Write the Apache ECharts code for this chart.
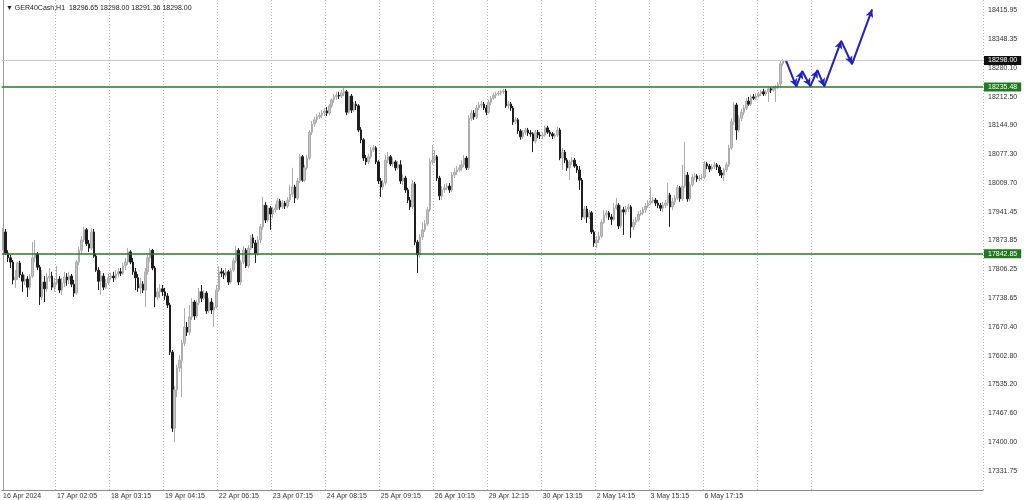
<!DOCTYPE html>
<html><head><meta charset="utf-8">
<script src="https://cdn.jsdelivr.net/npm/echarts@6/dist/echarts.min.js"></script>
<style>html,body{margin:0;padding:0;background:#fff}#c{width:1024px;height:500px}</style>
</head><body><div id="c"></div><script>
const symbolName = 'GER40Cash,H1';
// H1 candles: [open, close, low, high]
const candles = [
[17856,17894,17851,17903],[17894,17844,17840,17901],[17844,17833,17823,17851],[17833,17823,17809,17840],[17823,17781,17771,17828],
[17781,17788,17762,17804],[17788,17821,17781,17823],[17821,17793,17786,17826],[17793,17778,17753,17800],[17778,17783,17769,17793],
[17783,17764,17741,17790],[17764,17790,17757,17795],[17790,17833,17786,17870],[17833,17842,17823,17875],[17842,17811,17804,17847],
[17811,17741,17722,17816],[17741,17776,17734,17804],[17776,17760,17729,17790],[17760,17786,17753,17797],[17786,17790,17776,17809],
[17790,17764,17757,17800],[17764,17774,17753,17786],
[17774,17783,17769,17814],[17783,17757,17750,17790],[17757,17774,17746,17786],[17774,17788,17764,17800],[17788,17781,17767,17797],
[17781,17790,17771,17800],[17790,17771,17764,17795],[17771,17750,17741,17781],[17750,17823,17746,17828],[17823,17851,17816,17859],
[17851,17875,17844,17884],[17875,17899,17870,17906],[17899,17866,17861,17903],[17866,17856,17847,17875],[17856,17894,17851,17903],
[17894,17837,17833,17901],[17837,17804,17800,17844],[17804,17778,17757,17811],[17778,17790,17746,17802],[17790,17764,17757,17797],
[17764,17774,17760,17783],[17774,17786,17769,17795],
[17786,17790,17781,17797],[17790,17786,17776,17800],[17786,17795,17781,17804],[17795,17800,17788,17809],[17800,17797,17790,17809],
[17797,17814,17793,17821],[17814,17823,17804,17833],[17823,17847,17816,17856],[17847,17823,17818,17851],[17823,17800,17793,17833],
[17800,17786,17757,17809],[17786,17762,17753,17795],[17762,17771,17748,17786],[17771,17757,17750,17778],[17757,17800,17717,17809],
[17800,17833,17793,17840],[17833,17851,17823,17856],[17851,17809,17804,17854],[17809,17741,17717,17814],[17741,17753,17734,17762],
[17753,17760,17738,17771],[17760,17753,17743,17769],
[17753,17743,17734,17762],[17743,17722,17715,17750],[17722,17611,17604,17727],[17611,17432,17423,17616],[17432,17522,17399,17531],
[17522,17574,17505,17581],[17574,17592,17564,17604],[17592,17632,17505,17640],[17632,17670,17625,17715],[17670,17658,17649,17682],
[17658,17694,17651,17722],[17694,17729,17687,17738],[17729,17696,17687,17734],[17696,17727,17691,17734],[17727,17753,17722,17762],
[17753,17738,17729,17769],[17738,17750,17734,17757],[17750,17708,17701,17755],[17708,17729,17703,17738],[17729,17710,17701,17738],
[17710,17717,17670,17727],[17717,17757,17713,17769],
[17757,17800,17753,17814],[17800,17797,17788,17809],[17797,17793,17783,17804],[17793,17800,17788,17809],[17800,17776,17769,17804],
[17776,17804,17771,17809],[17804,17826,17800,17833],[17826,17851,17821,17861],[17851,17776,17769,17856],[17776,17823,17769,17828],
[17823,17851,17818,17861],[17851,17814,17809,17856],[17814,17856,17809,17863],[17856,17880,17851,17887],[17880,17868,17856,17889],
[17868,17844,17821,17875],[17844,17875,17837,17884],[17875,17906,17868,17913],[17906,17957,17899,17976],[17957,17922,17915,17964],
[17922,17950,17917,17957],[17950,17936,17899,17955],
[17936,17946,17927,17953],[17946,17950,17939,17960],[17950,17967,17946,17974],[17967,17953,17946,17972],[17953,17962,17948,17969],
[17962,17955,17948,17967],[17955,17969,17950,17976],[17969,17983,17965,18005],[17983,18000,17976,18045],[18000,17974,17962,18005],
[17974,18014,17969,18021],[18014,18071,18009,18078],[18071,18016,18012,18075],[18016,18045,18012,18052],[18045,18068,18040,18075],
[18068,18129,18063,18134],[18129,18148,18122,18155],[18148,18158,18141,18165],[18158,18165,18151,18172],[18165,18169,18160,18176],
[18169,18174,18162,18181],[18174,18179,18167,18186],
[18179,18174,18167,18188],[18174,18191,18169,18195],[18191,18205,18186,18209],[18205,18212,18198,18219],[18212,18216,18205,18224],
[18216,18214,18207,18224],[18214,18221,18209,18228],[18221,18224,18214,18233],[18224,18176,18169,18228],[18176,18214,18172,18224],
[18214,18181,18174,18219],[18181,18195,18176,18200],[18195,18191,18181,18202],[18191,18134,18129,18195],[18134,18111,18103,18141],
[18111,18068,18061,18115],[18068,18059,18052,18075],[18059,18071,18054,18078],[18071,18087,18066,18094],[18087,18092,18082,18099],
[18092,18059,18054,18096],[18059,18014,18007,18063],
[18014,18000,17976,18021],[18000,18009,17993,18016],[18009,18063,18005,18075],[18063,18071,18056,18082],[18071,18054,18049,18075],
[18054,18059,18047,18068],[18059,18045,18038,18063],[18045,18052,18040,18061],[18052,18014,18007,18063],[18014,18021,18005,18030],
[18021,17993,17986,18026],[17993,17969,17962,17998],[17969,17953,17946,17976],[17953,18007,17948,18016],[18007,17870,17863,18012],
[17870,17840,17797,17875],[17840,17882,17833,17889],[17882,17899,17875,17917],[17899,17913,17894,17922],[17913,17946,17908,17953],
[17946,18059,17941,18068],[18059,18063,18052,18099],
[18063,18071,18056,18087],[18071,18021,18014,18075],[18021,17979,17969,18026],[17979,17993,17969,18002],[17993,17998,17986,18007],
[17998,18002,17993,18009],[18002,17993,17986,18009],[17993,18028,17988,18035],[18028,18035,18021,18045],[18035,18040,18028,18049],
[18040,18045,18035,18052],[18045,18052,18038,18063],[18052,18068,18047,18075],[18068,18045,18040,18073],[18045,18162,18040,18169],
[18162,18174,18155,18181],[18174,18165,18158,18181],[18165,18186,18160,18193],[18186,18193,18181,18200],[18193,18195,18186,18202],
[18195,18186,18181,18200],[18186,18176,18169,18193],
[18176,18200,18172,18205],[18200,18209,18193,18214],[18209,18216,18205,18221],[18216,18219,18209,18224],[18219,18221,18214,18226],
[18221,18224,18216,18228],[18224,18226,18219,18231],[18226,18191,18186,18231],[18191,18195,18184,18202],[18195,18186,18179,18200],
[18186,18153,18146,18191],[18153,18158,18148,18165],[18158,18132,18125,18162],[18132,18118,18111,18136],[18118,18129,18113,18134],
[18129,18134,18122,18139],[18134,18127,18120,18139],[18127,18125,18118,18134],[18125,18108,18082,18129],[18108,18129,18103,18134],
[18129,18122,18115,18134],[18122,18120,18113,18129],
[18120,18122,18113,18129],[18122,18139,18118,18144],[18139,18129,18125,18144],[18129,18125,18118,18134],[18125,18120,18113,18129],
[18120,18122,18115,18127],[18122,18134,18118,18141],[18134,18068,18063,18139],[18068,18082,18040,18092],[18082,18063,18056,18087],
[18063,18045,18038,18068],[18045,18059,18016,18063],[18059,18063,18052,18071],[18063,18049,18045,18068],[18049,18040,18033,18054],
[18040,18016,17993,18049],[18016,17929,17922,18021],[17929,17948,17924,17955],[17948,17929,17915,17955],[17929,17939,17924,17946],
[17939,17894,17889,17943],[17894,17868,17859,17899],
[17868,17875,17856,17884],[17875,17884,17868,17894],[17884,17917,17880,17924],[17917,17934,17913,17946],[17934,17939,17927,17946],
[17939,17929,17922,17943],[17929,17924,17910,17936],[17924,17950,17920,17962],[17950,17957,17946,17974],[17957,17908,17901,17962],
[17908,17946,17903,17957],[17946,17941,17887,17953],[17941,17948,17934,17955],[17948,17953,17941,17960],[17953,17906,17880,17957],
[17906,17917,17899,17924],[17917,17922,17910,17929],[17922,17936,17917,17943],[17936,17939,17932,17946],[17939,17946,17934,17953],
[17946,17955,17939,17962],[17955,17962,17950,17969],
[17962,17967,17957,18000],[17967,17969,17962,17976],[17969,17962,17955,17974],[17962,17957,17950,17969],[17957,17950,17943,17962],
[17950,17957,17941,17965],[17957,17962,17950,17969],[17962,17981,17955,18009],[17981,17953,17906,17986],[17953,17965,17946,17974],
[17965,17974,17957,17981],[17974,17998,17969,18005],[17998,17972,17965,18002],[17972,18002,17967,18052],[18002,18028,17998,18106],
[18028,17972,17965,18035],[17972,18005,17967,18012],[18005,18023,18000,18030],[18023,18026,18016,18033],[18026,18019,18012,18030],
[18019,18021,18014,18028],[18021,18023,18016,18030],
[18023,18054,18019,18061],[18054,18049,18042,18059],[18049,18042,18035,18054],[18042,18047,18038,18054],[18047,18052,18042,18059],
[18052,18047,18040,18056],[18047,18033,18026,18052],[18033,18028,18021,18040],[18028,18040,18014,18045],[18040,18052,18035,18059],
[18052,18092,18047,18099],[18092,18153,18087,18162],[18153,18193,18146,18200],[18193,18134,18111,18198],[18134,18162,18129,18169],
[18162,18176,18155,18184],[18176,18186,18169,18193],[18186,18202,18181,18209],[18202,18195,18191,18212],[18195,18212,18191,18216],
[18212,18209,18205,18219],[18209,18214,18205,18221],
[18214,18219,18209,18224],[18219,18224,18214,18228],[18224,18219,18214,18231],[18219,18224,18214,18228],[18224,18231,18200,18235],
[18231,18228,18221,18235],[18228,18233,18224,18238],[18233,18235,18200,18240],[18235,18242,18231,18247],[18242,18290,18235,18299],
[18290,18297,18285,18301],[18296.65,18298.00,18291.36,18298.00]
];
const futureSlots = 80;
const labelIndex = [0,22,44,66,88,110,132,154,176,198,220,242,264,286,308];
const labelText = ['16 Apr 2024','17 Apr 02:05','18 Apr 03:15','19 Apr 04:15','22 Apr 06:15','23 Apr 07:15','24 Apr 08:15','25 Apr 09:15','26 Apr 10:15','29 Apr 12:15','30 Apr 13:15','2 May 14:15','3 May 15:15','6 May 17:15'];
const gridIndex = [22,44,66,88,110,132,154,176,198,220,242,264,286,308,330];
const yTicks = [18415.95,18348.35,18280.10,18212.50,18144.90,18077.30,18009.70,17941.45,17873.85,17806.25,17738.65,17670.40,17602.80,17535.20,17467.60,17400.00,17331.75];
const yMin = 17286.3, yMax = 18440.2;
const levelHigh = 18235.48, levelLow = 17842.85, bidPrice = 18298.00;
// hand-drawn forecast path (bar position, price)
const forecastX = [319.3, 323.4, 325.8, 329.1, 332.0, 334.8, 341.7, 346.1, 354.3];
const forecastY = [18296, 18236, 18273, 18237, 18275, 18237, 18344, 18289, 18418];

const labelAt = {};
labelAt[labelIndex[0]] = labelText[0];
for (let k = 1; k < labelText.length; k++) labelAt[labelIndex[k]] = labelText[k];

const N = candles.length + futureSlots;
const cats = [];
for (let i = 0; i < N; i++) cats.push(String(i));
const last = candles[candles.length - 1];
const titleText = '\u25BC ' + symbolName + '  ' + [last[0], last[3], last[2], last[1]].map(v => v.toFixed(2)).join(' ');
const FONT = 'Liberation Sans';

const chart = echarts.init(document.getElementById('c'), null, {renderer: 'canvas'});
function lvl(v, bg, lineColor, w) {
  return {yAxis: v, lineStyle: {color: lineColor, width: w, type: 'solid'},
    label: {show: true, position: 'end', distance: 1, formatter: v.toFixed(2), backgroundColor: bg, color: '#fff',
      padding: [1, 4, 0, 4], lineHeight: 8, fontSize: 7, fontFamily: FONT}};
}
const fdata = forecastX.map((x, i) => ({value: [x, forecastY[i]], symbol: i === 0 ? 'none' : 'arrow', symbolSize: [6, 8]}));
const option = {
  animation: false,
  backgroundColor: '#fff',
  title: {text: titleText, left: 1, top: 0, textStyle: {fontSize: 7, fontWeight: 'normal', color: '#222', fontFamily: FONT}},
  grid: {left: 0, right: 41, top: 0, bottom: 10, containLabel: false},
  xAxis: [{
    type: 'category', data: cats, boundaryGap: true,
    axisLine: {show: true, lineStyle: {color: '#8c8c8c'}},
    axisTick: {show: false},
    axisLabel: {interval: (i) => labelAt[i] !== undefined, formatter: (v, i) => labelAt[i] || '', align: 'left', margin: 3, fontSize: 7, color: '#333', fontFamily: FONT},
    splitLine: {show: true, interval: (i) => gridIndex.indexOf(i) >= 0, lineStyle: {color: '#b4b4b4', type: [1, 2], width: 1}}
  }, {type: 'value', min: -0.5, max: N - 0.5, show: false}],
  yAxis: [{
    type: 'value', position: 'right', min: yMin, max: yMax,
    axisLine: {show: true, lineStyle: {color: '#8c8c8c'}},
    axisTick: {show: false},
    axisLabel: {customValues: yTicks, formatter: v => v.toFixed(2), fontSize: 7, color: '#333', margin: 5, fontFamily: FONT},
    splitLine: {show: false}
  }],
  series: [{
    type: 'candlestick', data: candles, barWidth: 2,
    itemStyle: {color: '#c4c4c4', color0: '#1e1e1e', borderColor: '#acacac', borderColor0: '#1e1e1e', borderWidth: 1},
    markLine: {silent: true, symbol: ['none', 'none'], animation: false,
      data: [
        {xAxis: 0, lineStyle: {color: '#9a9a9a', width: 1, type: 'solid'}, label: {show: false}},
        lvl(bidPrice, '#111', '#c8c8c8', 1), lvl(levelHigh, '#1f7a1f', '#2a7a2a', 1.5), lvl(levelLow, '#1f7a1f', '#2a7a2a', 1.5)]}
  }, {
    type: 'line', xAxisIndex: 1, yAxisIndex: 0, data: fdata, showSymbol: true,
    lineStyle: {color: '#1e1ed2', width: 2}, itemStyle: {color: '#1e1ed2'}, z: 5
  }]
};
chart.setOption(option);
// orient arrowheads along each segment using the chart's own scales
const px = forecastX.map((x, i) => chart.convertToPixel({seriesIndex: 1}, [x, forecastY[i]]));
const fdata2 = fdata.map((d, i) => {
  if (i === 0) return d;
  const dx = px[i][0] - px[i - 1][0], dy = px[i][1] - px[i - 1][1];
  const ang = Math.atan2(-dx, -dy) * 180 / Math.PI;
  return Object.assign({}, d, {symbolRotate: ang});
});
chart.setOption({series: [{}, {data: fdata2}]});
</script></body></html>
